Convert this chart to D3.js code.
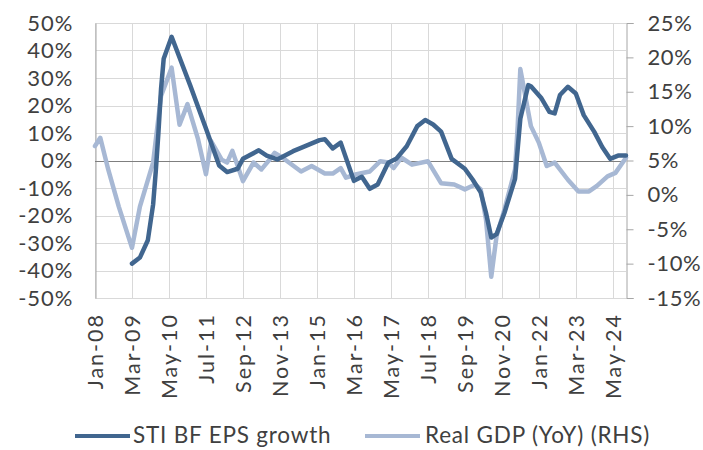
<!DOCTYPE html>
<html>
<head>
<meta charset="utf-8">
<script src="https://cdn.jsdelivr.net/npm/d3@7"></script>
<style>
  html, body { margin: 0; padding: 0; background: #ffffff; }
  svg { display: block; }
  text { font-family: Lato, "Open Sans", sans-serif; fill: #404040; }
</style>
</head>
<body>
<svg id="chart" width="703" height="450"></svg>
<script>
// Month labels shown on the category axis (every 14 months)
const tickLabels = ["Jan-08","Mar-09","May-10","Jul-11","Sep-12","Nov-13","Jan-15",
                    "Mar-16","May-17","Jul-18","Sep-19","Nov-20","Jan-22","Mar-23","May-24"];

// STI BF EPS growth (%), left axis
const epsDates = ["2009-03","2009-06","2009-09","2009-11","2009-12","2010-01","2010-02","2010-03","2010-06",
  "2011-01","2011-07","2011-12","2012-03","2012-07","2012-09","2013-03","2013-06","2013-10","2014-04",
  "2014-07","2015-02","2015-04","2015-07","2015-10","2016-03","2016-06","2016-09","2016-12","2017-04",
  "2017-07","2017-11","2018-03","2018-06","2018-09","2018-12","2019-04","2019-09","2019-12","2020-03",
  "2020-05","2020-07","2020-09","2020-12","2021-04","2021-06","2021-09","2021-10","2022-02","2022-05",
  "2022-07","2022-09","2022-12","2023-03","2023-06","2023-10","2024-01","2024-04","2024-07","2024-10"];
const epsValues = [-37.5,-35.3,-29,-16,-4,10,26,37,45,
  27.4,11.6,-1.8,-4.2,-3,0.6,3.7,1.8,0.4,3.4,
  4.6,7.4,7.7,4.4,6.5,-7.4,-5.9,-10.3,-8.7,-0.8,
  0.6,5.2,12.5,14.7,13.1,10.5,0.6,-3,-7,-11.6,
  -19,-28,-26.8,-19,-6.7,15.2,27.4,27,22.6,17.7,
  17.1,23.8,26.8,24.4,16.5,10.4,4.9,0.6,1.8,1.8];

// Real GDP (YoY) (%), right axis
const gdpDates = ["2008-01","2008-03","2008-06","2008-10","2009-03","2009-06","2009-11","2010-02","2010-06",
  "2010-09","2010-12","2011-04","2011-07","2011-09","2012-01","2012-03","2012-05","2012-09","2013-01",
  "2013-04","2013-07","2013-09","2013-12","2014-07","2014-11","2015-04","2015-07","2015-10","2015-12",
  "2016-04","2016-09","2017-01","2017-04","2017-06","2017-09","2018-01","2018-07","2018-12","2019-05",
  "2019-09","2020-01","2020-03","2020-05","2020-07","2020-09","2020-12","2021-04","2021-05","2021-06",
  "2021-10","2022-01","2022-04","2022-07","2022-12","2023-04","2023-08","2023-11","2024-03","2024-06","2024-10"];
const gdpValues = [7.1,8.3,3.7,-1.7,-7.7,-1.7,4.7,14.4,18.5,
  10.2,13.2,8.1,3,7.8,5.1,4.7,6.4,2,4.7,
  3.7,5.1,6.1,5.4,3.4,4.2,3.1,3.1,3.9,2.5,
  3,3.4,4.9,4.7,3.9,5.4,4.4,4.9,1.7,1.5,
  0.8,1.5,0.8,-3.6,-11.9,-6,-2.1,3.7,10,18.3,
  10,7.6,4.2,4.7,2.2,0.5,0.5,1.3,2.7,3.2,5.4];

const leftTicks = d3.range(-50, 51, 10);
const rightTicks = d3.range(-15, 26, 5);

const seriesNames = ["STI BF EPS growth", "Real GDP (YoY) (RHS)"];
const colors = ["#41668f", "#a7b8d4"];

// month index since Jan-08
const monthIndex = s => (+s.slice(0, 4) - 2008) * 12 + (+s.slice(5, 7) - 1);
const monNames = ["Jan","Feb","Mar","Apr","May","Jun","Jul","Aug","Sep","Oct","Nov","Dec"];
const labelIndex = l => {
  const [m, y] = l.split("-");
  return (2000 + +y - 2008) * 12 + monNames.indexOf(m);
};

const margin = { left: 95, right: 77, top: 23, bottom: 152 };
const W = 703, H = 450;
const x0 = margin.left, x1 = W - margin.right;   // plot left / right
const y0 = margin.top, y1 = H - margin.bottom;   // plot top / bottom

const lastMonth = monthIndex(epsDates[epsDates.length - 1]);
const x = d3.scaleLinear().domain([0, lastMonth]).range([x0, x1]);
const yL = d3.scaleLinear().domain([-50, 50]).range([y1, y0]);
const yR = d3.scaleLinear().domain([-15, 25]).range([y1, y0]);

const svg = d3.select("#chart");

// gridlines
const grid = svg.append("g").attr("stroke", "#d9d9d9").attr("stroke-width", 1);
grid.selectAll("line.h").data(leftTicks).join("line")
  .attr("x1", x0).attr("x2", x1)
  .attr("y1", d => Math.round(yL(d)) + 0.5).attr("y2", d => Math.round(yL(d)) + 0.5);
grid.selectAll("line.v").data(tickLabels).join("line")
  .attr("x1", d => Math.round(x(labelIndex(d))) + 0.5).attr("x2", d => Math.round(x(labelIndex(d))) + 0.5)
  .attr("y1", y0).attr("y2", y1);

// left axis
const leftAxis = svg.append("g").attr("transform", `translate(${x0 + 0.5},0)`)
  .call(d3.axisLeft(yL).tickValues(leftTicks).tickSize(0).tickPadding(22)
        .tickFormat(d => d + "%"));
leftAxis.select(".domain").attr("stroke", "#a6a6a6");
leftAxis.selectAll("text").attr("font-size", 22).attr("fill", "#404040")
  .attr("letter-spacing", "1px").attr("font-family", "Lato, sans-serif");

// right axis
const rightAxis = svg.append("g").attr("transform", `translate(${x1 + 0.5},0)`)
  .call(d3.axisRight(yR).tickValues(rightTicks).tickSize(7).tickPadding(14)
        .tickFormat(d => d + "%"));
rightAxis.select(".domain").attr("stroke", "#a6a6a6");
rightAxis.selectAll(".tick line").attr("stroke", "#a6a6a6");
rightAxis.selectAll("text").attr("font-size", 22).attr("fill", "#404040")
  .attr("letter-spacing", "0.6px").attr("font-family", "Lato, sans-serif");

// category axis along 0%, labels at the bottom
svg.append("line")
  .attr("x1", x0).attr("x2", x1)
  .attr("y1", Math.round(yL(0)) + 0.5).attr("y2", Math.round(yL(0)) + 0.5)
  .attr("stroke", "#7f7f7f").attr("stroke-width", 1);
svg.append("g").selectAll("text").data(tickLabels).join("text")
  .attr("transform", d => `translate(${x(labelIndex(d))},${y1 + 15}) rotate(-90)`)
  .attr("text-anchor", "end").attr("dy", "0.36em")
  .attr("font-size", 21.5).attr("letter-spacing", "2px").attr("fill", "#1f1f1f")
  .text(d => d);

// series lines
const eps = epsDates.map((d, i) => [monthIndex(d), epsValues[i]]);
const gdp = gdpDates.map((d, i) => [monthIndex(d), gdpValues[i]]);

svg.append("path").datum(gdp)
  .attr("fill", "none").attr("stroke", colors[1]).attr("stroke-width", 4.5)
  .attr("stroke-linejoin", "round").attr("stroke-linecap", "round")
  .attr("d", d3.line().x(d => x(d[0])).y(d => yR(d[1])));

svg.append("path").datum(eps)
  .attr("fill", "none").attr("stroke", colors[0]).attr("stroke-width", 4.5)
  .attr("stroke-linejoin", "round").attr("stroke-linecap", "round")
  .attr("d", d3.line().x(d => x(d[0])).y(d => yL(d[1])));

// legend
const legendItems = [
  { name: seriesNames[0], color: colors[0], lx: 75, tx: 133 },
  { name: seriesNames[1], color: colors[1], lx: 365, tx: 425 }
];
const lg = svg.append("g");
lg.selectAll("line").data(legendItems).join("line")
  .attr("x1", d => d.lx).attr("x2", d => d.lx + 55)
  .attr("y1", 436).attr("y2", 436)
  .attr("stroke", d => d.color).attr("stroke-width", 4);
lg.selectAll("text").data(legendItems).join("text")
  .attr("x", d => d.tx).attr("y", 443)
  .attr("font-size", 22.5).attr("letter-spacing", "0.8px").attr("fill", "#262626")
  .text(d => d.name);
</script>
</body>
</html>
